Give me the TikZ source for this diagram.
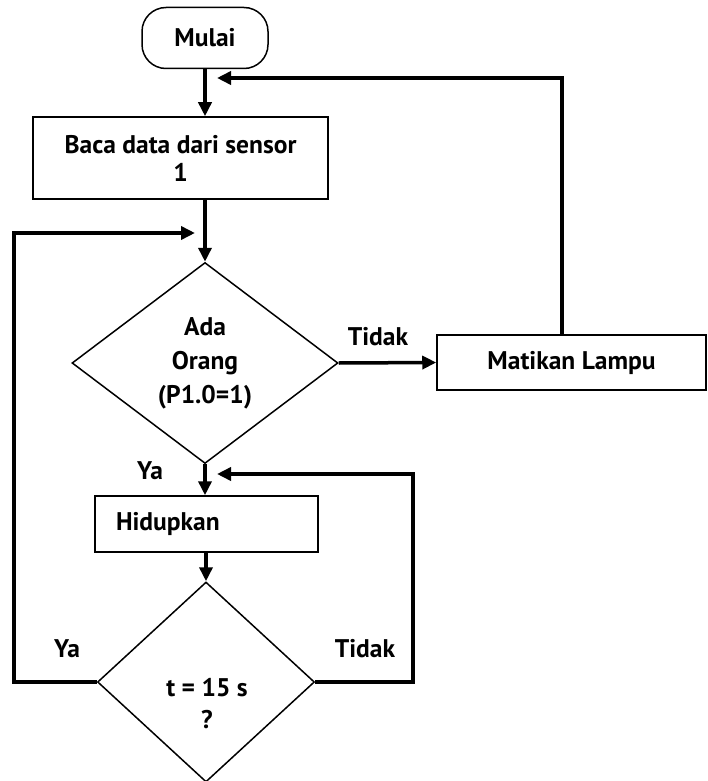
\documentclass[tikz,border=0pt]{standalone}
\usepackage{fontspec}
\setmainfont{PT Sans}
\usetikzlibrary{shapes.geometric,arrows.meta}

\begin{document}
\begin{tikzpicture}[x=1pt,y=-1pt,
		font=\fontsize{25.5}{28}\selectfont\bfseries,
		>={Triangle[length=14pt,width=13pt]},
		kotak/.style={draw, line width=1.5pt, inner sep=0pt, align=center},
		belah/.style={draw, diamond, line width=1.5pt, inner sep=0pt, align=center},
		garis/.style={line width=3.5pt}] %Início do fluxograma
	\useasboundingbox (0,0) rectangle (707,781); %Margens
		%Blok
	\node[kotak, rounded corners=24pt, minimum width=126pt, minimum height=61pt] (mulai) at (205,38) {Mulai}; %Terminal
	\node[kotak, minimum width=295pt, minimum height=82pt] (baca) at (180.5,158) {Baca data dari sensor\\1}; %Baca sensor
	\node[belah, minimum width=266pt, minimum height=201pt, font=\fontsize{25.5}{34}\selectfont\bfseries] (ada) at (205,363) {Ada\\Orang\\(P1.0=1)}; %Keputusan 1
	\node[kotak, minimum width=269pt, minimum height=55pt] (matikan) at (571.5,362.5) {Matikan Lampu}; %Lampu mati
	\node[kotak, minimum height=56pt, text width=181pt, inner xsep=21pt, align=left] (hidup) at (206.5,524) {Hidupkan}; %Lampu hidup
	\node[belah, minimum width=217pt, minimum height=200pt] (cek) at (206,682) {}; %Keputusan 2
	\node[align=center, font=\fontsize{25.5}{32}\selectfont\bfseries] (cekteks) at (207,704) {t = 15 s\\?}; %Teks keputusan 2
		%Label
	\node (tidak1) at (378,337) {Tidak};
	\node (ya1) at (150,471) {Ya};
	\node (ya2) at (67,649) {Ya};
	\node (tidak2) at (365,649) {Tidak};
		%Titik belok
	\coordinate (pojok1) at (562,78);
	\coordinate (kembali1) at (217,78);
	\coordinate (pojok2) at (14,233);
	\coordinate (kembali2) at (195,233);
	\coordinate (pojok3) at (413,474);
	\coordinate (kembali3) at (217,474);
		%Panah
	\draw[->, garis] (mulai.south) -- (mulai.south |- baca.north); %Mulai ke baca
	\draw[->, garis] (ada.north |- baca.south) -- (ada.north); %Baca ke keputusan 1
	\draw[->, garis] (ada.east) -- (matikan.west); %Tidak
	\draw[->, garis] (pojok1 |- matikan.north) -- (pojok1) -- (kembali1); %Kembali ke atas
	\draw[->, garis] (ada.south) -- (ada.south |- hidup.north); %Ya
	\draw[->, garis] (cek.north |- hidup.south) -- (cek.north); %Hidupkan ke keputusan 2
	\draw[->, garis] (cek.west) -| (pojok2) -- (kembali2); %Ya, kembali baca
	\draw[->, garis] (cek.east) -| (pojok3) -- (kembali3); %Tidak, tetap hidup
\end{tikzpicture}
\end{document}
